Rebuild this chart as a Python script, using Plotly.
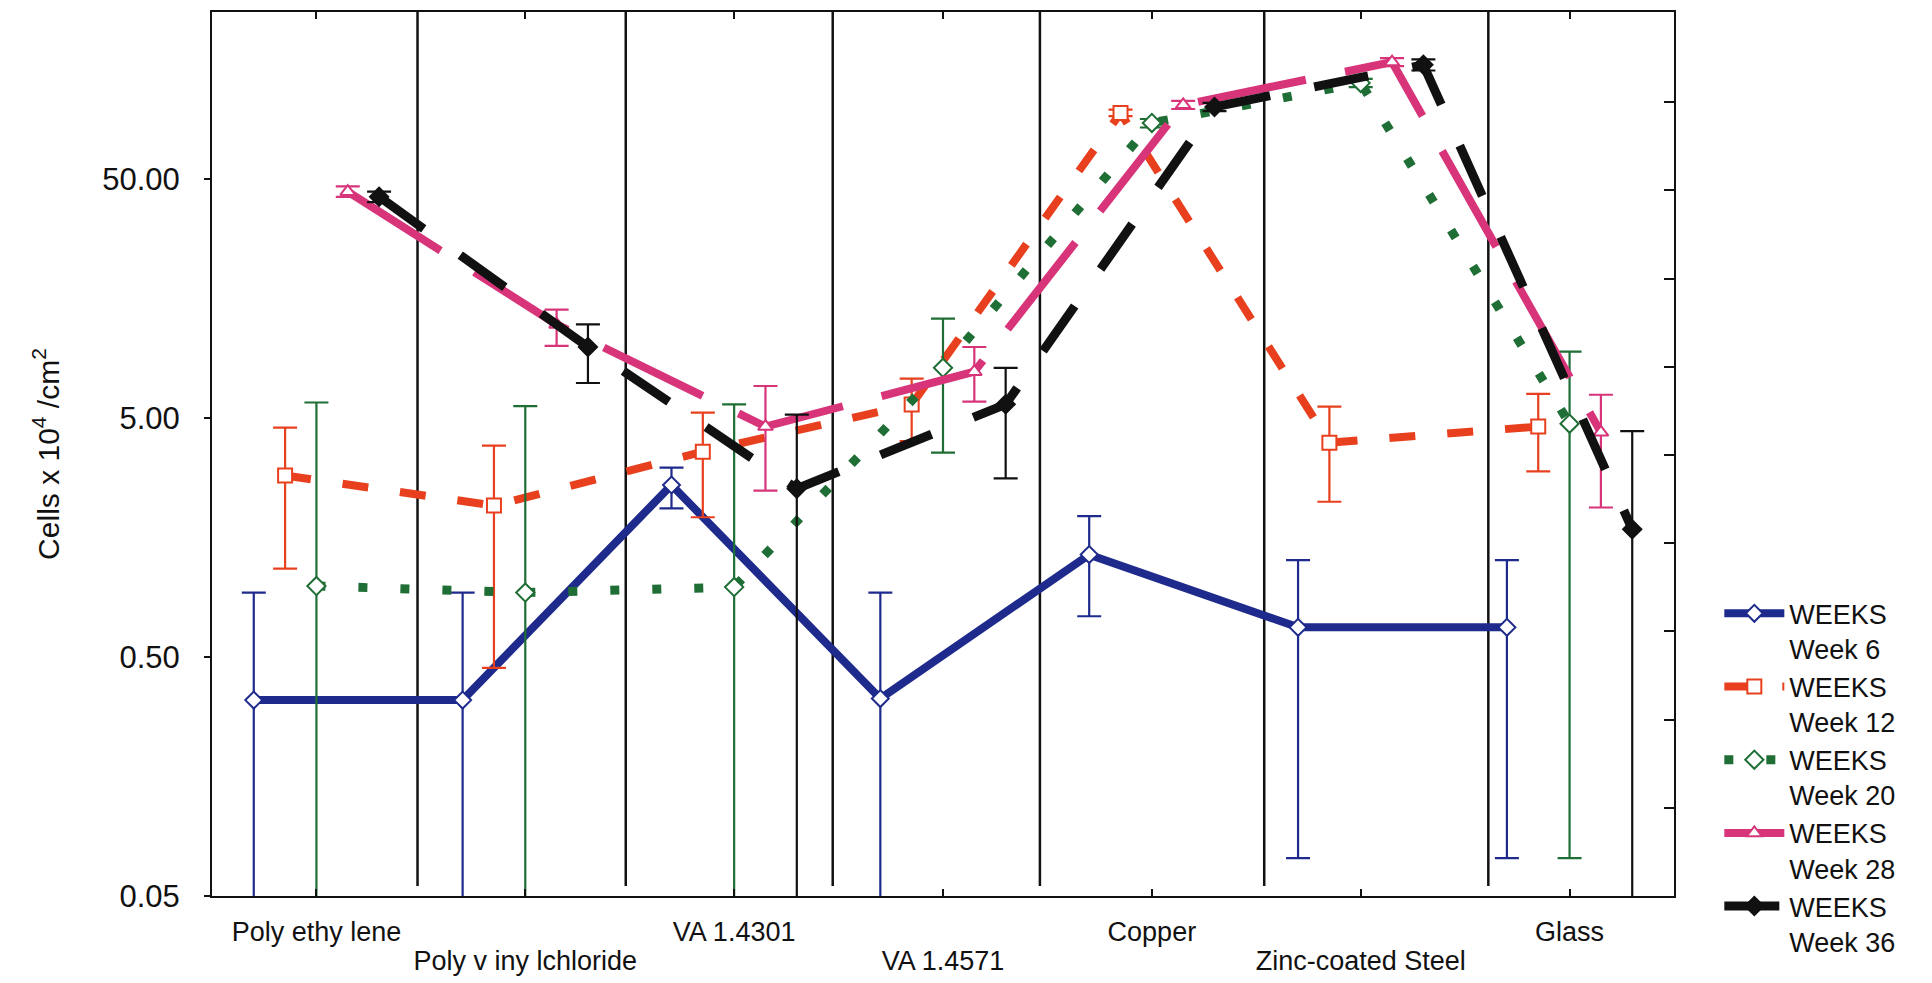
import math
import plotly.graph_objects as go

# ---------------- data ----------------
categories = ["Poly ethy lene", "Poly v iny lchloride", "VA 1.4301", "VA 1.4571",
              "Copper", "Zinc-coated Steel", "Glass"]
series_names = ["WEEKS<br>Week 6", "WEEKS<br>Week 12", "WEEKS<br>Week 20",
                "WEEKS<br>Week 28", "WEEKS<br>Week 36"]

week6 = [0.33, 0.33, 2.62, 0.335, 1.34, 0.665, 0.665]
week6_hi = [0.93, 0.93, 3.1, 0.93, 1.94, 1.27, 1.27]
week6_lo = [0.01, 0.01, 2.09, 0.01, 0.74, 0.072, 0.072]

week12 = [2.87, 2.15, 3.61, 5.69, 94.4, 3.94, 4.6]
week12_hi = [4.55, 3.83, 5.26, 7.3, 97.5, 5.57, 6.3]
week12_lo = [1.17, 0.45, 1.92, 4.0, 91.5, 2.23, 2.99]

week20 = [0.99, 0.93, 0.98, 8.1, 85.7, 126, 4.73]
week20_hi = [5.8, 5.6, 5.7, 13.0, 89, 131, 9.46]
week20_lo = [0.01, 0.01, 0.01, 3.58, 82, 121, 0.072]

week28 = [44.2, 12.3, 4.6, 7.8, 102, 154, 4.35]
week28_hi = [46.5, 14.2, 6.8, 9.9, 106, 160, 6.25]
week28_lo = [42.0, 10.0, 2.48, 5.85, 98, 148, 2.11]

week36 = [42.1, 9.9, 2.53, 5.7, 100, 150, 1.71]
week36_hi = [44.2, 12.3, 5.16, 8.1, 104, 158, 4.4]
week36_lo = [40.0, 7.0, 0.01, 2.79, 96, 142, 0.01]

offsets = [-0.3, -0.15, 0.0, 0.15, 0.3]
divider_x = [0.484, 1.481, 2.472, 3.464, 4.538, 5.611]
divider_y = [0.055, 260]

y_ticks = [0.05, 0.5, 5, 50]
y_ticktext = ["0.05", "0.50", "5.00", "50.00"]

# ---------------- styles ----------------
colors = ["#1e2a8c", "#e8401e", "#1f6e35", "#d8347a", "#111111"]
dashes = ["solid", "26px,32px", "9px,33px", "110px,40px", "55px,45px"]
widths = [8, 8, 9, 8, 9]
symbols = ["diamond", "square", "diamond", "triangle-up", "diamond"]
mfill = ["white", "white", "white", "white", "#111111"]
msize = [13, 14, 14, 13, 14]

values = [week6, week12, week20, week28, week36]
his = [week6_hi, week12_hi, week20_hi, week28_hi, week36_hi]
los = [week6_lo, week12_lo, week20_lo, week28_lo, week36_lo]

fig = go.Figure()

# vertical divider lines
vx, vy = [], []
for d in divider_x:
    vx += [d, d, None]
    vy += [divider_y[0], divider_y[1], None]
fig.add_trace(go.Scatter(x=vx, y=vy, mode="lines",
                         line=dict(color="#111111", width=2.5),
                         showlegend=False, hoverinfo="skip"))

for i in range(5):
    xs = [k + offsets[i] for k in range(len(categories))]
    v = values[i]
    plus = [h - a for h, a in zip(his[i], v)]
    minus = [a - l for a, l in zip(v, los[i])]
    fig.add_trace(go.Scatter(
        x=xs, y=v, name=series_names[i], mode="lines+markers",
        line=dict(color=colors[i], width=widths[i], dash=dashes[i]),
        marker=dict(symbol=symbols[i], size=msize[i], color=mfill[i],
                    line=dict(color=colors[i], width=2)),
        error_y=dict(type="data", symmetric=False, array=plus, arrayminus=minus,
                     color=colors[i], thickness=2.2, width=12),
    ))

# dummy traces so the overlay axes are drawn
fig.add_trace(go.Scatter(x=[None], y=[None], yaxis="y2", showlegend=False,
                         hoverinfo="skip"))
fig.add_trace(go.Scatter(x=[None], y=[None], xaxis="x3", showlegend=False,
                         hoverinfo="skip"))

font_family = "Liberation Sans, Arial, sans-serif"
row1_idx = [k for k in range(len(categories)) if k % 2 == 0]
row2_idx = [k for k in range(len(categories)) if k % 2 == 1]

common_x = dict(range=[-0.5, 6.5], tickmode="array", automargin=False,
                tickangle=0, ticks="inside", ticklen=7, tickwidth=2,
                tickcolor="#111111", mirror="ticks", showgrid=False,
                zeroline=False,
                tickfont=dict(size=27, color="#111111", family=font_family))

fig.update_layout(
    width=1932, height=983,
    margin=dict(l=212, r=258, t=12, b=87, autoexpand=False),
    paper_bgcolor="white", plot_bgcolor="white",
    font=dict(family=font_family, color="#111111"),
    xaxis=dict(**common_x, tickvals=row1_idx,
               ticktext=[categories[k] for k in row1_idx],
               showline=True, linecolor="#111111", linewidth=2,
               ticklabelstandoff=11),
    xaxis3=dict(**common_x, overlaying="x", side="bottom", anchor="y",
                tickvals=row2_idx, ticktext=[categories[k] for k in row2_idx],
                showline=False, ticklabelstandoff=46),
    yaxis=dict(type="log", range=[math.log10(0.05), 2.397], automargin=False,
               tickmode="array", tickvals=y_ticks, ticktext=y_ticktext,
               ticks="outside", ticklen=6, tickwidth=2, tickcolor="#111111",
               showline=True, linecolor="#111111", linewidth=2,
               showgrid=False, zeroline=False, ticklabelstandoff=18,
               tickfont=dict(size=31, color="#111111", family=font_family),
               title=dict(text="Cells x 10<sup>4</sup> /cm<sup>2</sup>",
                          font=dict(size=30, color="#111111", family=font_family),
                          standoff=34)),
    yaxis2=dict(overlaying="y", side="right", range=[0, 884 / 88.2],
                tickmode="array", tickvals=list(range(1, 10)), automargin=False,
                ticks="inside", ticklen=10, tickwidth=2, tickcolor="#111111",
                showticklabels=False, showline=True, linecolor="#111111",
                linewidth=2, showgrid=False, zeroline=False),
    legend=dict(x=1.031, y=0.347, xanchor="left", yanchor="top",
                font=dict(size=27, color="#111111", family=font_family),
                bgcolor="rgba(0,0,0,0)", valign="top", tracegroupgap=0,
                itemwidth=60),
    showlegend=True,
)

fig.write_html("out.html", config={"displayModeBar": False},
               post_script="document.body.style.margin='0';document.body.style.overflow='hidden';")
